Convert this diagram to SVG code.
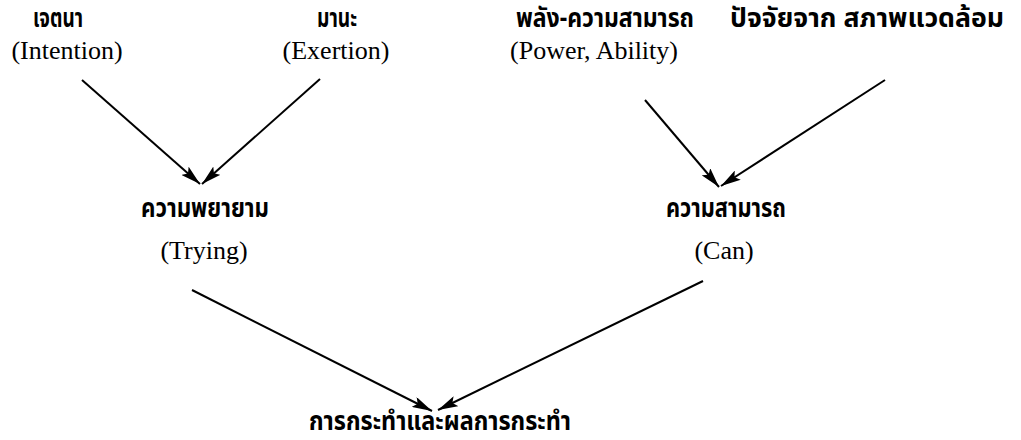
<svg xmlns="http://www.w3.org/2000/svg" width="1021" height="440" viewBox="0 0 1021 440">
<style>
.th{font-family:"Noto Sans Thai","Noto Sans Thai UI","Loma","Garuda","Noto Sans",sans-serif;font-size:27px;font-weight:bold;fill:#000;text-anchor:middle}
.en{font-family:"Liberation Serif","Times New Roman",serif;font-size:26px;fill:#000;text-anchor:middle}
.ln{stroke:#000;stroke-width:2;fill:none;marker-end:url(#ah)}
</style>
<defs>
<marker id="ah" viewBox="0 0 20 11" refX="20" refY="5.5" markerWidth="20" markerHeight="11" markerUnits="userSpaceOnUse" orient="auto">
<path d="M0,0 L20,5.5 L0,11 L4,5.5 z" fill="#000"/>
</marker>
</defs>
<rect width="1021" height="440" fill="#fff"/>
<g id="connectors">
<line class="ln" x1="82" y1="80" x2="200" y2="184"/>
<line class="ln" x1="320" y1="79" x2="202" y2="184"/>
<line class="ln" x1="645" y1="100" x2="719" y2="187"/>
<line class="ln" x1="885" y1="80" x2="721" y2="186"/>
<line class="ln" x1="192" y1="290" x2="432" y2="411"/>
<line class="ln" x1="703" y1="281" x2="438" y2="410"/>
</g>
<g id="intention"><text class="th" x="58" y="27" textLength="50" lengthAdjust="spacingAndGlyphs">เจตนา</text><text class="en" x="67" y="59">(Intention)</text></g>
<g id="exertion"><text class="th" x="337" y="27" textLength="40" lengthAdjust="spacingAndGlyphs">มานะ</text><text class="en" x="336" y="59">(Exertion)</text></g>
<g id="power"><text class="th" x="605" y="27" textLength="178" lengthAdjust="spacingAndGlyphs">พลัง-ความสามารถ</text><text class="en" x="594" y="59">(Power, Ability)</text></g>
<g id="environment"><text class="th" x="867" y="27" textLength="274" lengthAdjust="spacingAndGlyphs">ปัจจัยจาก สภาพแวดล้อม</text></g>
<g id="trying"><text class="th" x="205" y="217" textLength="128" lengthAdjust="spacingAndGlyphs">ความพยายาม</text><text class="en" x="204" y="259">(Trying)</text></g>
<g id="can"><text class="th" x="726" y="217" textLength="120" lengthAdjust="spacingAndGlyphs">ความสามารถ</text><text class="en" x="724" y="259">(Can)</text></g>
<g id="action"><text class="th" x="440" y="430" textLength="262" lengthAdjust="spacingAndGlyphs">การกระทำและผลการกระทำ</text></g>
</svg>
